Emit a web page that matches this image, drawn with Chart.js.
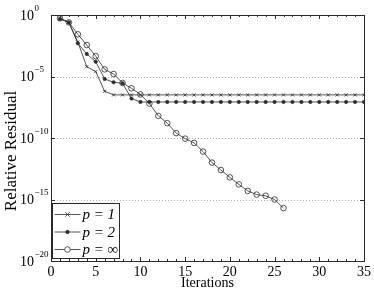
<!DOCTYPE html>
<html>
<head>
<meta charset="utf-8">
<script src="https://cdn.jsdelivr.net/npm/chart.js@4.4.0/dist/chart.umd.min.js"></script>
<style>
  html, body { margin: 0; padding: 0; background: #fff; }
</style>
</head>
<body>
<canvas id="chart01" width="374" height="293"></canvas>
<script>
// iteration numbers
var iterations = [1, 2, 3, 4, 5, 6, 7, 8, 9, 10, 11, 12, 13, 14, 15, 16, 17, 18,
  19, 20, 21, 22, 23, 24, 25, 26, 27, 28, 29, 30, 31, 32, 33, 34, 35];

// relative residual, p = 1
var residualP1 = [5.4e-1, 2.5e-1, 6.3e-3, 6.3e-5, 2.5e-5, 6.3e-7, 3.2e-7, 3.2e-7,
  3.2e-7, 3.2e-7, 3.2e-7, 3.2e-7, 3.2e-7, 3.2e-7, 3.2e-7, 3.2e-7, 3.2e-7, 3.2e-7,
  3.2e-7, 3.2e-7, 3.2e-7, 3.2e-7, 3.2e-7, 3.2e-7, 3.2e-7, 3.2e-7, 3.2e-7, 3.2e-7,
  3.2e-7, 3.2e-7, 3.2e-7, 3.2e-7, 3.2e-7, 3.2e-7, 3.2e-7];

// relative residual, p = 2
var residualP2 = [4.7e-1, 2.5e-1, 5.0e-3, 6.8e-4, 1.6e-4, 6.3e-6, 3.4e-6, 2.8e-6,
  1.6e-7, 8.5e-8, 8.5e-8, 8.5e-8, 8.5e-8, 8.5e-8, 8.5e-8, 8.5e-8, 8.5e-8, 8.5e-8,
  8.5e-8, 8.5e-8, 8.5e-8, 8.5e-8, 8.5e-8, 8.5e-8, 8.5e-8, 8.5e-8, 8.5e-8, 8.5e-8,
  8.5e-8, 8.5e-8, 8.5e-8, 8.5e-8, 8.5e-8, 8.5e-8, 8.5e-8];

// relative residual, p = inf (stops at iteration 26)
var residualPinf = [5.4e-1, 2.5e-1, 2.7e-2, 3.6e-3, 4.5e-4, 3.8e-5, 1.6e-5, 3.0e-6,
  1.1e-6, 3.5e-7, 6.3e-8, 6.3e-9, 1.6e-9, 2.5e-10, 8.9e-11, 4.0e-11, 7.9e-12,
  1.0e-12, 2.5e-13, 6.3e-14, 1.7e-14, 5.0e-15, 2.5e-15, 2.0e-15, 1.0e-15, 2.0e-16];

var seriesLabels = ['p = 1', 'p = 2', 'p = ∞'];

var xTicks = [0, 5, 10, 15, 20, 25, 30, 35];
var yTicks = [1e-20, 1e-15, 1e-10, 1e-5, 1];
var yTickExponents = ['−20', '−15', '−10', '−5', '0'];
var yTitle = 'Relative Residual';

var SERIF = '"Liberation Serif", "DejaVu Serif", serif';
var INK = '#2b2b2b';

function toPoints(values) {
  return values.map(function (v, i) { return { x: iterations[i], y: v }; });
}

// 枠・目盛り・点線グリッド・y軸ラベル
var framePlugin = {
  id: 'frame',
  beforeDatasetsDraw: function (chart) {
    var ctx = chart.ctx, a = chart.chartArea, ys = chart.scales.y;
    ctx.save();
    ctx.strokeStyle = '#9a9a9a';
    ctx.lineWidth = 0.8;
    ctx.setLineDash([1, 2]);
    yTicks.forEach(function (t) {
      var py = Math.round(ys.getPixelForValue(t)) + 0.5;
      if (py <= a.top + 1 || py >= a.bottom - 1) return;
      ctx.beginPath();
      ctx.moveTo(a.left, py);
      ctx.lineTo(a.right, py);
      ctx.stroke();
    });
    ctx.restore();
  },
  afterDatasetsDraw: function (chart) {
    var ctx = chart.ctx, a = chart.chartArea, xs = chart.scales.x, ys = chart.scales.y;
    ctx.save();
    ctx.strokeStyle = INK;
    ctx.lineWidth = 1;
    ctx.beginPath();
    for (var i = xs.min; i <= xs.max; i++) {
      var px = Math.round(xs.getPixelForValue(i)) + 0.5;
      var len = (i % 5 === 0) ? 4 : 2;
      ctx.moveTo(px, a.bottom); ctx.lineTo(px, a.bottom - len);
      ctx.moveTo(px, a.top); ctx.lineTo(px, a.top + len);
    }
    yTicks.forEach(function (t) {
      var py = Math.round(ys.getPixelForValue(t)) + 0.5;
      ctx.moveTo(a.left, py); ctx.lineTo(a.left + 4, py);
      ctx.moveTo(a.right, py); ctx.lineTo(a.right - 4, py);
    });
    ctx.stroke();
    ctx.strokeRect(Math.round(a.left) + 0.5, Math.round(a.top) + 0.5,
      Math.round(a.right - a.left), Math.round(a.bottom - a.top));

    // y軸ラベル 10^n
    ctx.fillStyle = '#000';
    ctx.textAlign = 'left';
    ctx.textBaseline = 'alphabetic';
    yTicks.forEach(function (t, k) {
      var py = ys.getPixelForValue(t);
      ctx.font = '14px ' + SERIF;
      ctx.fillText('10', 20, py + 4.5);
      var w = ctx.measureText('10').width;
      ctx.font = '9px ' + SERIF;
      ctx.fillText(yTickExponents[k], 20 + w + 0.5, py - 4.5);
    });

    // y軸タイトル
    ctx.save();
    ctx.translate(12, 151);
    ctx.rotate(-Math.PI / 2);
    ctx.textAlign = 'center';
    ctx.textBaseline = 'middle';
    ctx.font = '17px ' + SERIF;
    ctx.fillText(yTitle, 0, 0);
    ctx.restore();

    ctx.restore();
  }
};

// 凡例 (グラフ内 左下)
var legendPlugin = {
  id: 'insideLegend',
  afterDraw: function (chart) {
    var ctx = chart.ctx, a = chart.chartArea;
    var bx = Math.round(a.left) + 1.5, bw = 67, bh = 55;
    var by = Math.round(a.bottom) - bh - 2.5;
    ctx.save();
    ctx.fillStyle = '#fff';
    ctx.fillRect(bx, by, bw, bh);
    ctx.strokeStyle = INK;
    ctx.lineWidth = 1;
    ctx.strokeRect(bx, by, bw, bh);
    chart.data.datasets.forEach(function (ds, i) {
      var cy = by + 11 + i * 17.5;
      var x0 = bx + 2, x1 = bx + 28, mx = (x0 + x1) / 2;
      ctx.strokeStyle = INK;
      ctx.lineWidth = 0.8;
      ctx.beginPath();
      ctx.moveTo(x0, cy); ctx.lineTo(x1, cy);
      ctx.stroke();
      var r = ds.pointRadius;
      ctx.beginPath();
      if (ds.pointStyle === 'crossRot') {
        ctx.moveTo(mx - r, cy - r); ctx.lineTo(mx + r, cy + r);
        ctx.moveTo(mx - r, cy + r); ctx.lineTo(mx + r, cy - r);
        ctx.stroke();
      } else {
        ctx.arc(mx, cy, r, 0, Math.PI * 2);
        ctx.fillStyle = (ds.pointBackgroundColor !== 'rgba(0,0,0,0)') ? INK : '#fff';
        ctx.fill();
        ctx.stroke();
      }
      ctx.fillStyle = '#000';
      ctx.font = 'italic 15px ' + SERIF;
      ctx.textAlign = 'left';
      ctx.textBaseline = 'middle';
      ctx.fillText(ds.label, x1 + 2, cy + 1);
    });
    ctx.restore();
  }
};

var ctx = document.getElementById('chart01').getContext('2d');
var chart = new Chart(ctx, {
  type: 'line',
  data: {
    datasets: [{
      label: seriesLabels[0],
      data: toPoints(residualP1),
      borderColor: INK,
      borderWidth: 0.8,
      pointStyle: 'crossRot',
      pointRadius: 2.2,
      pointBorderWidth: 0.8,
      pointBorderColor: INK,
      pointBackgroundColor: INK
    }, {
      label: seriesLabels[1],
      data: toPoints(residualP2),
      borderColor: INK,
      borderWidth: 0.8,
      pointStyle: 'circle',
      pointRadius: 1.7,
      pointBorderWidth: 0.6,
      pointBorderColor: INK,
      pointBackgroundColor: INK
    }, {
      label: seriesLabels[2],
      data: toPoints(residualPinf),
      borderColor: INK,
      borderWidth: 0.8,
      pointStyle: 'circle',
      pointRadius: 2.8,
      pointBorderWidth: 0.8,
      pointBorderColor: INK,
      pointBackgroundColor: 'rgba(0,0,0,0)'
    }]
  },
  options: {
    responsive: false,
    animation: false,
    layout: { padding: { top: 15, right: 9, left: 0, bottom: 0 } },
    plugins: {
      legend: { display: false },
      tooltip: { enabled: false }
    },
    elements: { line: { tension: 0 } },
    scales: {
      x: {
        type: 'linear',
        min: 0,
        max: 35,
        afterBuildTicks: function (scale) {
          scale.ticks = xTicks.map(function (v) { return { value: v }; });
        },
        afterFit: function (scale) { scale.height = 32; },
        grid: { display: false, drawTicks: false },
        border: { display: false },
        ticks: {
          color: '#000',
          padding: 3,
          maxRotation: 0,
          font: { family: SERIF, size: 14 }
        },
        title: {
          display: true,
          text: 'Iterations',
          color: '#000',
          padding: { top: 0, bottom: 1 },
          font: { family: SERIF, size: 14 }
        }
      },
      y: {
        type: 'logarithmic',
        min: 1e-20,
        max: 1,
        afterBuildTicks: function (scale) {
          scale.ticks = yTicks.map(function (v) { return { value: v }; });
        },
        afterFit: function (scale) { scale.width = 51; },
        grid: { display: false, drawTicks: false },
        border: { display: false },
        ticks: { display: false }
      }
    }
  },
  plugins: [framePlugin, legendPlugin]
});
</script>
</body>
</html>
